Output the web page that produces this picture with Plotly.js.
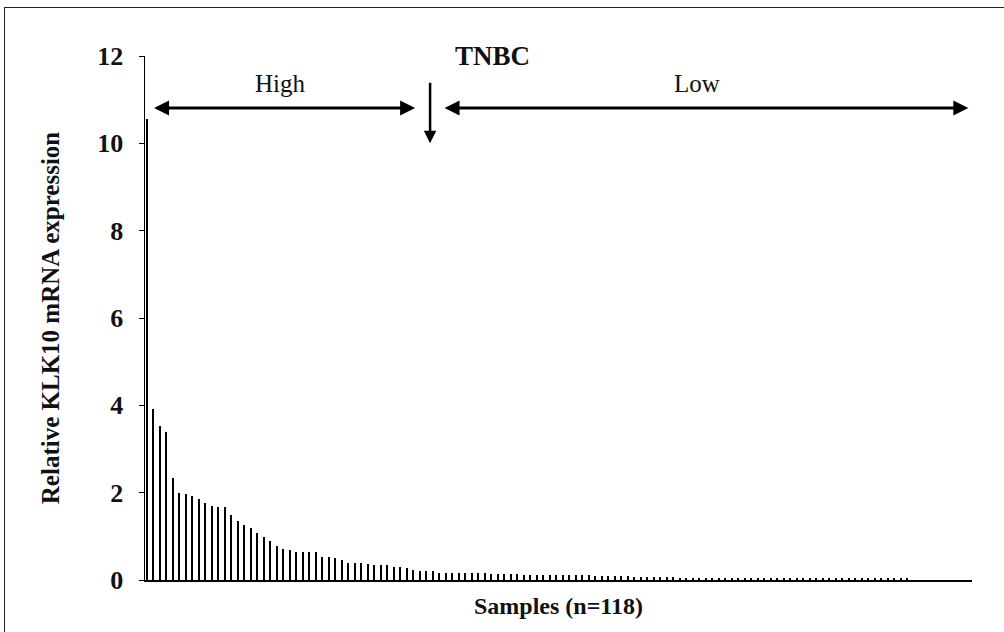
<!DOCTYPE html>
<html>
<head>
<meta charset="utf-8">
<script src="https://cdn.plot.ly/plotly-3.0.1.min.js"></script>
<style>
  html, body { margin: 0; padding: 0; background: #fff; }
  #wrap { position: relative; width: 1004px; height: 632px; overflow: hidden; }
  #chart { width: 1004px; height: 632px; }
  #frame {
    position: absolute; left: 4px; top: 7px; width: 1100px; height: 700px;
    border-left: 1.5px solid #222; border-top: 1.5px solid #222;
    pointer-events: none;
  }
</style>
</head>
<body>
<div id="wrap">
  <div id="chart"></div>
  <div id="frame"></div>
</div>
<script>
// Relative KLK10 mRNA expression per TNBC sample, sorted high to low
const expression = [
  10.55, 3.91, 3.52, 3.39, 2.33, 1.99, 1.96, 1.93, 1.86, 1.76,
  1.70, 1.67, 1.67, 1.49, 1.34, 1.25, 1.20, 1.08, 0.99, 0.89,
  0.79, 0.72, 0.68, 0.63, 0.63, 0.63, 0.63, 0.53, 0.52, 0.51,
  0.46, 0.39, 0.39, 0.38, 0.36, 0.35, 0.35, 0.35, 0.30, 0.29,
  0.27, 0.22, 0.20, 0.20, 0.20, 0.17, 0.17, 0.17, 0.17, 0.17,
  0.17, 0.15, 0.15, 0.13, 0.13, 0.13, 0.13, 0.13, 0.12, 0.12,
  0.12, 0.12, 0.11, 0.11, 0.11, 0.11, 0.11, 0.11, 0.11, 0.09,
  0.09, 0.09, 0.09, 0.09, 0.09, 0.07, 0.07, 0.07, 0.07, 0.07,
  0.07, 0.07, 0.05, 0.05, 0.05, 0.05, 0.05, 0.05, 0.05, 0.05,
  0.05, 0.05, 0.05, 0.04, 0.04, 0.04, 0.04, 0.04, 0.04, 0.04,
  0.04, 0.035, 0.04, 0.035, 0.04, 0.035, 0.035, 0.04, 0.035, 0.035,
  0.04, 0.035, 0.035, 0.04, 0.035, 0.035, 0.04, 0.035
];
// Sample numbers 1..118
const samples = expression.map((_, i) => i + 1);

const yTicks = [0, 2, 4, 6, 8, 10, 12];
const yTickText = ['0', '2', '4', '6', '8', '10', '12'];

const groupLabels = ['High', 'Low'];
const titleText = 'TNBC';
const xTitle = 'Samples (n=118)';
const yTitle = 'Relative KLK10 mRNA expression';

const serif = 'Liberation Serif, Times New Roman, serif';

const trace = {
  type: 'bar',
  x: samples,
  y: expression,
  width: 0.32,
  marker: { color: '#000', line: { width: 0 } },
  hoverinfo: 'x+y'
};

// Double-headed group arrows and the cut-off marker, in axis units
const arrowStyle = {
  text: '', showarrow: true, xref: 'x', yref: 'y', axref: 'x', ayref: 'y',
  arrowhead: 2, startarrowhead: 2, arrowsize: 1, startarrowsize: 1,
  arrowwidth: 3, arrowcolor: '#000'
};

const annotations = [
  Object.assign({}, arrowStyle, { x: 42.3, y: 10.81, ax: 1.9, ay: 10.81, arrowside: 'end+start' }),
  Object.assign({}, arrowStyle, { x: 127.4, y: 10.81, ax: 46.6, ay: 10.81, arrowside: 'end+start' }),
  Object.assign({}, arrowStyle, { x: 44.6, y: 10.0, ax: 44.6, ay: 11.42, arrowside: 'end', arrowwidth: 2.5 }),
  { text: groupLabels[0], xref: 'x', yref: 'y', x: 21.6, y: 11.38, showarrow: false,
    font: { family: serif, size: 25, color: '#111' } },
  { text: groupLabels[1], xref: 'x', yref: 'y', x: 85.7, y: 11.38, showarrow: false,
    font: { family: serif, size: 25, color: '#111' } },
  { text: '<b>' + titleText + '</b>', xref: 'paper', yref: 'paper', x: 0.42, y: 1.0,
    yanchor: 'middle', showarrow: false,
    font: { family: serif, size: 27, color: '#111' } }
];

const layout = {
  width: 1004,
  height: 632,
  margin: { l: 145, r: 32, t: 56, b: 52 },
  paper_bgcolor: '#fff',
  plot_bgcolor: '#fff',
  showlegend: false,
  bargap: 0,
  xaxis: {
    range: [0.74, 127.97],
    showgrid: false,
    zeroline: false,
    showline: true,
    linecolor: '#000',
    linewidth: 1.5,
    showticklabels: false,
    ticks: '',
    title: { text: '<b>' + xTitle + '</b>', standoff: 16,
      font: { family: serif, size: 24, color: '#111' } }
  },
  yaxis: {
    range: [0, 12],
    tickvals: yTicks,
    ticktext: yTickText,
    ticks: 'outside',
    ticklen: 5,
    tickwidth: 1,
    tickcolor: '#000',
    showgrid: false,
    zeroline: false,
    showline: true,
    linecolor: '#000',
    linewidth: 1.5,
    tickfont: { family: serif, size: 26, color: '#111', weight: 'bold' },
    ticklabelstandoff: 10,
    title: { text: '<b>' + yTitle + '</b>', standoff: 30,
      font: { family: serif, size: 25, color: '#111' } }
  },
  annotations: annotations
};

Plotly.newPlot('chart', [trace], layout, { displayModeBar: false, staticPlot: true });
</script>
</body>
</html>
